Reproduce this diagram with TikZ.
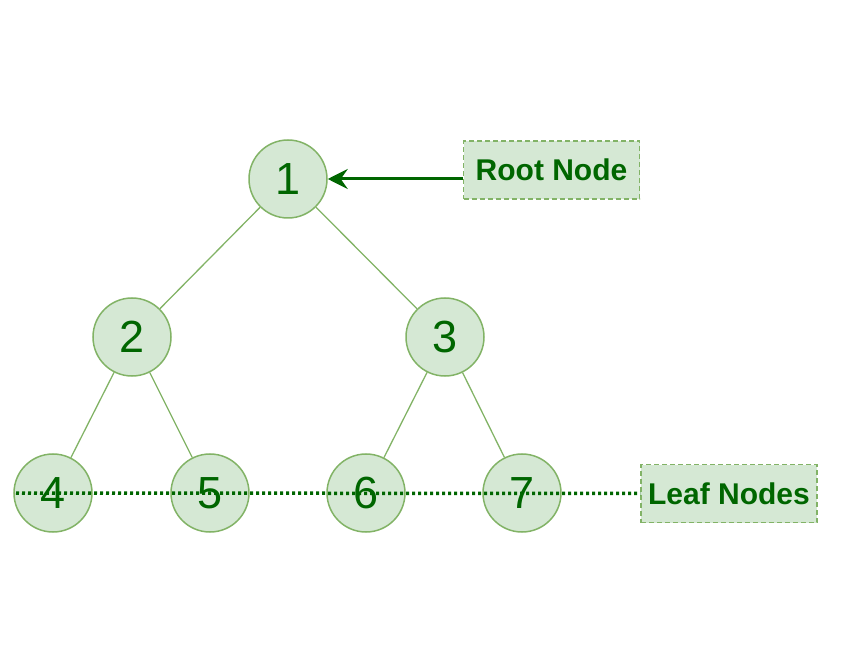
\documentclass[tikz,border=0pt]{standalone}
\usepackage{fontspec}
\setmainfont{Liberation Sans}
\usetikzlibrary{arrows.meta}
\definecolor{leaffill}{HTML}{D5E8D4}
\definecolor{leafline}{HTML}{82B366}
\definecolor{darkleaf}{HTML}{006600}

\begin{document}
\begin{tikzpicture}[x=1pt,y=-1pt,
    treenode/.style={circle,draw=leafline,fill=leaffill,line width=1.5pt,
      minimum size=78pt,inner sep=0pt,text=darkleaf,font=\fontsize{45}{45}\selectfont},
    tag/.style={draw=leafline,fill=leaffill,line width=1.3pt,dash pattern=on 5pt off 3pt,
      minimum width=176pt,minimum height=58pt,inner sep=0pt,text=darkleaf,
      font=\fontsize{30}{30}\selectfont\bfseries},
    branch/.style={leafline,line width=1.3pt}]
  \useasboundingbox (0,0) rectangle (847,647);
  % tree
  \node[treenode] (n1) at (288,179) {1};
  \node[treenode] (n2) at (132,337) {2};
  \node[treenode] (n3) at (445,337) {3};
  \node[treenode] (n4) at (53,493) {4};
  \node[treenode] (n5) at (210,493) {5};
  \node[treenode] (n6) at (366,493) {6};
  \node[treenode] (n7) at (522,493) {7};
  \draw[branch] (n1) -- (n2);
  \draw[branch] (n1) -- (n3);
  \draw[branch] (n2) -- (n4);
  \draw[branch] (n2) -- (n5);
  \draw[branch] (n3) -- (n6);
  \draw[branch] (n3) -- (n7);
  % labels
  \node[tag] (root) at (551.5,170) {Root Node};
  \node[tag] (leaves) at (729,493.5) {Leaf Nodes};
  \draw[darkleaf,line width=3pt,-{Stealth[length=20pt,width=20pt,inset=7pt]}] (n1.east -| root.west) -- (n1.east);
  \coordinate (dotstart) at (16,493);
  \draw[darkleaf,line width=3.5pt,dash pattern=on 3pt off 3pt] (dotstart) -- (leaves.west);
\end{tikzpicture}
\end{document}
